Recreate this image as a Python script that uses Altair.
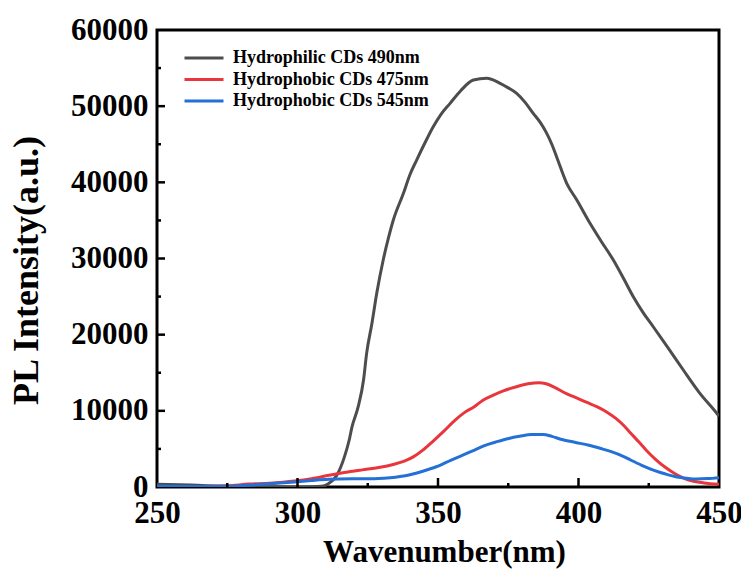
import altair as alt
import pandas as pd

# ---- data ----
series_names = ["Hydrophilic CDs 490nm", "Hydrophobic CDs 475nm", "Hydrophobic CDs 545nm"]
series_colors = ["#4d4d4d", "#e8363c", "#2370d6"]

gray_x = [250, 262, 275, 290, 302, 308.5, 311, 314, 316.7, 318.4, 319.4, 321.6, 323.5, 324.6,
          326.5, 328.2, 330.5, 332.3, 334.1, 337.7, 340, 342.4, 345.5, 348.3, 351, 354.3, 358,
          362.6, 367.3, 372.1, 375, 378, 381, 383.9, 386.5, 388.7, 390.5, 392.2, 395.8, 399.4,
          404.1, 408, 412.4, 416, 419.5, 423, 426.6, 432, 437.3, 443, 449.7, 450]
gray_y = [350, 250, 90, 30, 0, 90, 440, 1540, 3950, 6170, 7900, 10540, 14050, 17550,
          21500, 25430, 29800, 32600, 35050, 38560, 41000, 42930, 45300, 47300, 48900, 50370, 52000,
          53430, 53650, 53000, 52400, 51680, 50500, 49050, 47800, 46430, 45000, 43360, 39870, 37680,
          34620, 32300, 29800, 27400, 24980, 22900, 21040, 18200, 15360, 12400, 9450, 9300]

red_x = [250, 262, 275, 282.7, 290, 299, 305, 311.2, 318, 323, 328.9, 334.4, 338, 341.2, 344.5,
         348, 352, 356.1, 359.5, 362.9, 366, 369.7, 373.5, 377.9, 382, 386, 388.5, 391.5, 395.5,
         399.7, 403, 406.5, 410, 413.3, 416, 418.7, 421.5, 424.1, 427.5, 431, 434.5, 437.8, 441,
         444.6, 450]
red_y = [60, 40, 150, 380, 500, 790, 1100, 1540, 1980, 2250, 2550, 2990, 3400, 3950, 4800,
         5930, 7300, 8780, 9800, 10540, 11400, 12070, 12650, 13170, 13550, 13700, 13550, 13080, 12300,
         11630, 11100, 10540, 9850, 9000, 8100, 7020, 5900, 4830, 3600, 2550, 1700, 1100, 750,
         530, 350]

blue_x = [250, 262, 274.5, 287, 299, 305, 311.2, 320, 328.9, 333, 337, 340, 342.5, 346.5, 350.7,
          354.5, 358.8, 363, 367, 371, 375.2, 379, 383.3, 387.4, 390.5, 394.1, 399, 403.7, 408,
          411.9, 415.5, 418.7, 422.5, 426.9, 431, 435, 438.5, 441.8, 446, 450]
blue_y = [100, 60, 90, 350, 660, 850, 1010, 1080, 1100, 1200, 1400, 1600, 1840, 2300, 2850,
          3500, 4170, 4850, 5490, 5950, 6370, 6650, 6890, 6900, 6650, 6230, 5850, 5490, 5050,
          4610, 4100, 3510, 2850, 2190, 1700, 1320, 1150, 1050, 1100, 1230]

x_ticks = [250, 300, 350, 400, 450]
y_ticks = [0, 10000, 20000, 30000, 40000, 50000, 60000]
x_major_inner = [300, 350, 400]
x_minor_inner = [275, 325, 375, 425]
y_major_inner = [10000, 20000, 30000, 40000, 50000]
y_minor_inner = [5000, 15000, 25000, 35000, 45000, 55000]

# ---- build tables ----
rows = []
for name, xs, ys in zip(series_names, [gray_x, red_x, blue_x], [gray_y, red_y, blue_y]):
    for xv, yv in zip(xs, ys):
        rows.append({"wl": xv, "val": yv, "series": name})
df = pd.DataFrame(rows)

W, H = 562, 457
FONT = "Liberation Serif"

xscale = alt.Scale(domain=[250, 450], nice=False)
yscale = alt.Scale(domain=[0, 60000], nice=False)

lines = alt.Chart(df).mark_line(strokeWidth=3, interpolate="monotone", clip=True).encode(
    x=alt.X("wl:Q", scale=xscale,
            axis=alt.Axis(values=x_ticks, format="d", title="Wavenumber(nm)", ticks=False,
                          domain=False, grid=False, labelFont=FONT, labelFontWeight="bold",
                          labelFontSize=31, labelColor="black", labelPadding=11,
                          labelFlush=False, labelOverlap=False,
                          titleFont=FONT, titleFontWeight="bold", titleFontSize=31,
                          titleColor="black", titlePadding=9, titleX=W / 2 + 6)),
    y=alt.Y("val:Q", scale=yscale,
            axis=alt.Axis(values=y_ticks, format="d", title="PL Intensity(a.u.)", ticks=False,
                          domain=False, grid=False, labelFont=FONT, labelFontWeight="bold",
                          labelFontSize=31, labelColor="black", labelPadding=9,
                          labelFlush=False, labelOverlap=False,
                          titleFont=FONT, titleFontWeight="bold", titleFontSize=36,
                          titleColor="black", titlePadding=25, titleY=240)),
    color=alt.Color("series:N",
                    scale=alt.Scale(domain=series_names, range=series_colors),
                    legend=alt.Legend(title=None, orient="none", legendX=38, legendY=19,
                                      symbolType="M-3,0H3", symbolSize=169, symbolStrokeWidth=3,
                                      labelFont=FONT, labelFontWeight="bold", labelFontSize=18,
                                      labelColor="black", labelOffset=20, labelLimit=0,
                                      padding=0, rowPadding=3.5)),
    order=alt.value(0),
)

xmaj = alt.Chart(pd.DataFrame({"t": x_major_inner})).mark_rule(color="black", strokeWidth=2.5).encode(
    x=alt.X("t:Q", scale=xscale), y=alt.value(H), y2=alt.value(H - 9))
xmin = alt.Chart(pd.DataFrame({"t": x_minor_inner})).mark_rule(color="black", strokeWidth=2.5).encode(
    x=alt.X("t:Q", scale=xscale), y=alt.value(H), y2=alt.value(H - 4))
ymaj = alt.Chart(pd.DataFrame({"t": y_major_inner})).mark_rule(color="black", strokeWidth=2.5).encode(
    y=alt.Y("t:Q", scale=yscale), x=alt.value(0), x2=alt.value(8))
ymin = alt.Chart(pd.DataFrame({"t": y_minor_inner})).mark_rule(color="black", strokeWidth=2.5).encode(
    y=alt.Y("t:Q", scale=yscale), x=alt.value(0), x2=alt.value(4))

chart = alt.layer(lines, xmaj, xmin, ymaj, ymin).properties(
    width=W, height=H,
    autosize=alt.AutoSizeParams(type="none"),
    padding={"left": 149, "top": 22, "right": 22, "bottom": 90},
    background="white",
).configure_view(stroke="black", strokeWidth=3)

chart.save("out.html", embed_options={"renderer": "svg", "actions": False})
